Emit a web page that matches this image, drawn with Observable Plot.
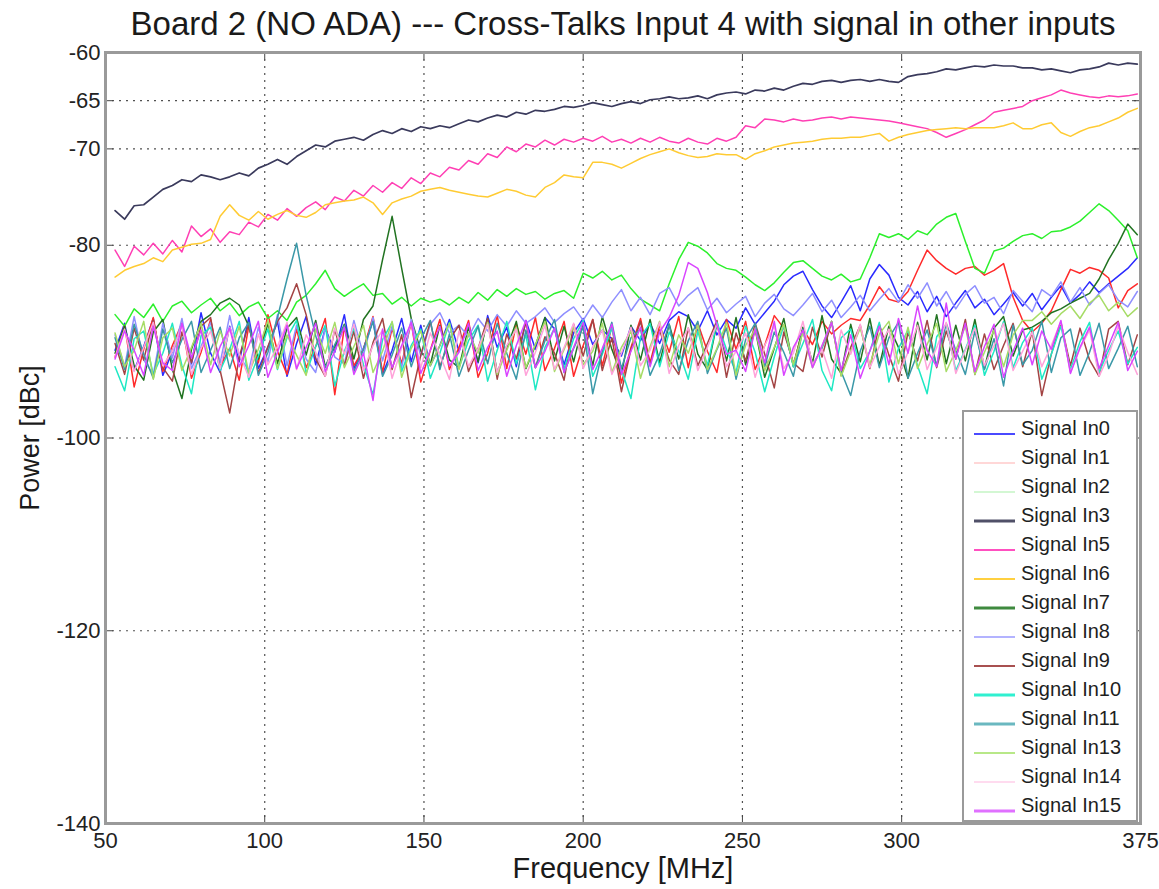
<!DOCTYPE html>
<html>
<head>
<meta charset="utf-8">
<script src="https://cdn.jsdelivr.net/npm/d3@7"></script>
<script src="https://cdn.jsdelivr.net/npm/@observablehq/plot@0.6"></script>
<style>
  html, body { margin: 0; padding: 0; background: #fff; }
  #wrap { position: relative; width: 1159px; height: 889px; font-family: "Liberation Sans", Arial, sans-serif; }
  #legend { position: absolute; left: 962px; top: 410px; width: 172px; height: 408px;
            border: 2px solid #9a9a9a; background: #fff; box-sizing: content-box; }
  .row { position: absolute; left: 0; height: 29px; width: 172px; }
  .sw { position: absolute; left: 10px; top: 11px; }
  .lb { position: absolute; left: 57px; top: 50%; transform: translateY(-50%); font-size: 20px; color: #1e1e1e; white-space: nowrap; }
</style>
</head>
<body>
<div id="wrap"></div>
<script>
// ---- data ----
const titleText = "Board 2 (NO ADA) --- Cross-Talks Input 4 with signal in other inputs";
const xLabel = "Frequency [MHz]";
const yLabel = "Power [dBc]";
const xTicks = [50, 100, 150, 200, 250, 300, 375];
const xGrid = [100, 150, 200, 250, 300];
const yTicks = [-60, -65, -70, -80, -100, -120, -140];
const yGrid = [-65, -70, -80, -100, -120];

const freq = [
 53,56,59,62,65,68,71,74,77,80,83,86,
 89,92,95,98,101,104,107,110,113,116,119,122,
 125,128,131,134,137,140,143,146,149,152,155,158,
 161,164,167,170,173,176,179,182,185,188,191,194,
 197,200,203,206,209,212,215,218,221,224,227,230,
 233,236,239,242,245,248,251,254,257,260,263,266,
 269,272,275,278,281,284,287,290,293,296,299,302,
 305,308,311,314,317,320,323,326,329,332,335,338,
 341,344,347,350,353,356,359,362,365,368,371,374];

const seriesNames = ["Signal In0","Signal In1","Signal In2","Signal In3","Signal In5","Signal In6","Signal In7",
  "Signal In8","Signal In9","Signal In10","Signal In11","Signal In13","Signal In14","Signal In15"];

const in0 = [
 -90.9,-88.1,-93.0,-90.5,-87.6,-93.5,-91.0,-88.2,-92.3,-87.0,-91.2,-93.2,
 -88.4,-92.1,-87.5,-92.8,-90.6,-87.9,-93.6,-90.2,-87.4,-92.4,-88.6,-91.1,
 -87.2,-92.8,-90.7,-87.8,-93.4,-90.9,-87.6,-92.1,-88.3,-92.5,-90.4,-87.7,
 -91.0,-88.1,-92.2,-87.3,-90.6,-88.5,-92.6,-87.8,-90.8,-87.5,-88.7,-92.4,
 -89.1,-87.6,-90.3,-88.8,-89.7,-91.5,-88.4,-89.9,-88.1,-90.2,-87.8,-86.9,
 -87.4,-88.9,-86.8,-89.3,-87.7,-88.6,-86.5,-88.2,-87.0,-85.8,-84.1,-83.2,
 -82.7,-84.6,-86.3,-87.5,-85.9,-84.2,-86.8,-83.5,-82.0,-83.1,-85.4,-86.2,
 -84.8,-86.9,-85.3,-87.4,-86.0,-84.7,-86.5,-85.6,-87.2,-86.1,-84.9,-86.3,
 -85.0,-86.7,-85.4,-84.2,-86.0,-85.1,-83.8,-84.9,-84.0,-83.2,-82.4,-81.3];

const in1 = [
 -91.6,-88.3,-94.7,-90.8,-87.5,-93.1,-90.4,-88.1,-93.8,-91.1,-87.7,-92.6,
 -90.7,-94.0,-88.4,-92.2,-87.2,-91.0,-93.4,-88.7,-92.7,-90.5,-87.6,-95.5,
 -88.5,-92.5,-90.8,-87.4,-93.2,-88.6,-92.3,-88.0,-94.2,-90.9,-87.7,-92.9,
 -90.6,-87.8,-93.7,-91.2,-87.3,-92.8,-88.2,-91.3,-87.5,-93.0,-90.7,-87.9,
 -93.6,-90.4,-87.7,-92.5,-88.4,-94.3,-90.6,-87.6,-92.2,-88.3,-91.1,-87.4,
 -92.7,-88.1,-91.0,-93.2,-87.7,-90.8,-87.9,-92.9,-90.4,-87.3,-88.6,-92.4,
 -88.7,-90.3,-87.9,-89.2,-88.3,-87.6,-87.8,-86.2,-84.3,-85.6,-85.9,-84.8,
 -82.6,-80.5,-81.6,-82.4,-83.0,-82.4,-82.2,-83.1,-82.6,-81.9,-85.4,-87.8,
 -89.0,-88.1,-86.8,-84.6,-82.5,-82.9,-82.3,-82.6,-83.4,-86.5,-84.7,-84.0];

const in2 = [
 -87.2,-88.4,-86.6,-87.5,-86.1,-87.9,-86.3,-85.8,-87.0,-86.2,-85.5,-86.8,
 -86.0,-87.3,-86.4,-85.9,-87.6,-86.8,-87.8,-85.9,-85.2,-84.0,-82.6,-84.5,
 -85.3,-84.6,-84.0,-85.2,-85.0,-86.1,-85.4,-86.3,-85.5,-85.9,-85.6,-86.2,
 -85.4,-86.0,-84.9,-85.7,-84.6,-85.3,-84.5,-85.1,-84.8,-85.6,-85.0,-84.7,
 -85.5,-82.9,-83.4,-82.7,-83.6,-83.1,-84.5,-85.6,-86.2,-86.8,-84.0,-81.5,
 -79.7,-80.1,-80.8,-81.9,-82.4,-82.6,-83.3,-84.1,-84.7,-83.9,-82.8,-81.8,
 -81.6,-82.4,-83.2,-83.6,-83.0,-83.8,-83.5,-81.3,-78.8,-79.2,-78.8,-79.4,
 -78.5,-78.9,-77.8,-77.1,-76.7,-79.6,-82.4,-82.9,-80.6,-80.3,-79.6,-79.0,
 -78.8,-79.3,-78.6,-78.5,-78.1,-77.5,-76.6,-75.7,-76.4,-77.4,-78.5,-81.3];

const in3 = [
 -76.4,-77.3,-75.9,-75.8,-75.0,-74.2,-73.8,-73.2,-73.4,-72.7,-72.9,-73.2,
 -72.9,-72.5,-72.8,-72.0,-71.6,-71.1,-71.6,-70.8,-70.2,-69.6,-69.8,-69.2,
 -69.0,-68.8,-69.1,-68.5,-68.1,-68.4,-67.9,-68.2,-67.7,-67.9,-67.6,-67.8,
 -67.4,-67.0,-67.2,-66.8,-66.5,-66.7,-66.2,-66.4,-66.0,-66.1,-65.9,-65.6,
 -65.7,-65.5,-65.2,-65.4,-65.6,-65.3,-65.1,-65.3,-64.9,-64.8,-64.6,-64.8,
 -64.7,-64.5,-64.8,-64.4,-64.2,-64.1,-64.3,-63.9,-64.0,-63.7,-63.9,-63.5,
 -63.2,-63.3,-63.0,-62.9,-63.1,-62.9,-62.8,-63.0,-62.8,-63.0,-63.1,-62.5,
 -62.3,-62.2,-62.0,-61.7,-61.8,-61.6,-61.4,-61.5,-61.3,-61.4,-61.4,-61.6,
 -61.6,-61.8,-61.7,-61.9,-62.1,-61.8,-61.7,-61.5,-61.1,-61.3,-61.1,-61.2];

const in5 = [
 -80.5,-82.2,-80.1,-81.0,-79.8,-80.9,-79.5,-80.7,-78.0,-79.1,-78.3,-79.7,
 -78.6,-78.9,-77.6,-78.1,-76.8,-77.4,-76.2,-77.0,-76.1,-75.5,-76.3,-75.0,
 -75.4,-74.3,-74.9,-73.8,-74.5,-73.5,-74.1,-73.0,-73.6,-72.5,-72.9,-71.9,
 -72.2,-71.2,-71.6,-70.5,-70.9,-69.8,-70.3,-69.5,-69.8,-69.1,-69.6,-69.0,
 -69.3,-68.9,-69.2,-68.7,-69.3,-69.0,-69.4,-68.9,-69.3,-68.8,-69.2,-69.4,
 -68.9,-69.3,-69.5,-68.9,-69.2,-68.8,-67.6,-67.8,-66.9,-67.0,-67.2,-66.9,
 -67.1,-67.0,-66.8,-66.7,-66.9,-66.7,-66.8,-66.9,-67.0,-67.1,-67.3,-67.5,
 -67.7,-67.9,-68.3,-68.8,-68.4,-68.0,-67.5,-67.0,-66.2,-66.0,-65.8,-65.6,
 -65.0,-64.7,-64.4,-63.9,-64.2,-64.4,-64.6,-64.7,-64.5,-64.6,-64.5,-64.3];

const in6 = [
 -83.3,-82.6,-82.2,-81.9,-81.3,-81.7,-80.5,-80.2,-79.9,-79.8,-79.4,-77.0,
 -75.8,-76.9,-77.4,-76.5,-77.3,-76.8,-76.4,-76.9,-77.1,-76.6,-75.8,-75.6,
 -75.4,-75.3,-75.0,-75.6,-76.8,-75.6,-75.2,-74.9,-74.4,-74.2,-74.0,-74.3,
 -74.5,-74.7,-74.9,-75.0,-74.6,-74.2,-74.4,-74.8,-75.0,-74.0,-73.5,-72.7,
 -72.9,-73.0,-71.4,-71.4,-71.6,-72.0,-71.5,-71.0,-70.6,-70.3,-70.0,-70.4,
 -70.7,-70.9,-70.8,-70.5,-70.6,-70.6,-71.1,-70.5,-70.2,-69.8,-69.6,-69.4,
 -69.3,-69.2,-69.0,-68.9,-68.9,-68.8,-68.8,-68.6,-68.4,-69.2,-68.8,-68.5,
 -68.3,-68.1,-68.0,-67.9,-67.8,-67.9,-67.8,-67.8,-67.8,-67.6,-67.3,-67.9,
 -67.9,-67.5,-67.3,-68.3,-68.7,-68.2,-67.8,-67.6,-67.2,-66.8,-66.2,-65.8];

const in7 = [
 -91.2,-88.4,-92.5,-94.0,-89.0,-87.7,-92.9,-95.9,-90.8,-87.9,-87.2,-86.0,
 -85.5,-86.2,-88.4,-91.8,-88.1,-92.3,-88.6,-87.5,-91.4,-87.8,-92.6,-90.5,
 -88.2,-91.8,-87.7,-86.3,-81.5,-77.0,-82.4,-87.6,-91.0,-92.4,-88.3,-91.9,
 -92.7,-88.5,-92.1,-87.6,-93.2,-90.7,-87.9,-92.8,-90.4,-87.5,-92.0,-88.4,
 -92.1,-88.0,-92.5,-87.4,-90.8,-93.4,-88.3,-91.9,-87.7,-92.2,-88.2,-91.8,
 -87.2,-91.3,-92.9,-88.1,-92.0,-87.5,-92.4,-88.7,-93.7,-90.7,-87.6,-92.6,
 -88.5,-92.2,-87.3,-91.8,-93.3,-88.2,-92.1,-87.6,-92.5,-88.4,-90.6,-93.8,
 -88.0,-91.9,-87.2,-92.3,-88.3,-92.0,-87.7,-92.8,-88.6,-87.4,-91.5,-88.8,
 -88.5,-87.9,-87.0,-86.6,-86.0,-85.5,-85.0,-83.5,-81.5,-79.8,-77.8,-78.9];

const in8 = [
 -89.3,-92.6,-87.4,-91.9,-93.4,-88.1,-91.7,-87.6,-92.8,-90.5,-88.0,-92.2,
 -87.3,-91.5,-93.0,-88.5,-92.1,-87.2,-92.5,-88.3,-91.8,-93.2,-88.6,-91.6,
 -92.3,-87.8,-91.4,-87.5,-92.0,-88.4,-92.7,-87.7,-91.5,-88.2,-87.0,-89.1,
 -88.3,-89.5,-87.6,-88.9,-87.2,-88.4,-86.8,-88.1,-87.4,-86.5,-88.0,-87.1,
 -86.4,-87.8,-86.2,-87.5,-85.9,-84.6,-86.8,-85.4,-87.2,-85.0,-84.4,-86.3,
 -85.2,-84.4,-86.7,-85.5,-87.0,-86.1,-85.3,-87.4,-86.0,-85.1,-86.6,-87.3,
 -86.2,-85.0,-86.9,-85.7,-87.5,-86.4,-85.2,-86.8,-85.6,-84.5,-85.9,-84.1,
 -85.5,-83.9,-86.3,-84.8,-86.6,-85.1,-84.2,-86.0,-85.4,-87.1,-84.7,-85.8,
 -86.9,-84.6,-85.3,-83.8,-85.9,-84.4,-86.2,-85.0,-84.1,-85.7,-86.4,-84.8];

const in9 = [
 -90.2,-93.4,-88.6,-91.9,-87.8,-92.7,-94.1,-89.0,-92.2,-88.4,-87.5,-93.0,
 -97.4,-91.6,-88.1,-93.3,-90.5,-87.9,-86.5,-84.0,-87.2,-91.8,-93.6,-88.7,
 -92.5,-88.9,-93.8,-90.1,-87.6,-92.9,-89.3,-95.8,-91.4,-87.9,-92.6,-89.8,
 -88.3,-93.1,-90.7,-87.6,-93.9,-89.2,-91.8,-88.0,-92.7,-89.5,-91.2,-94.0,
 -88.2,-91.5,-87.7,-93.0,-89.6,-95.2,-90.8,-87.9,-92.4,-88.8,-91.9,-93.4,
 -88.6,-92.5,-90.2,-87.8,-93.7,-89.1,-92.0,-88.1,-91.3,-94.8,-89.0,-92.2,
 -93.1,-88.5,-91.6,-87.9,-93.5,-90.6,-88.3,-92.8,-88.2,-91.4,-94.1,-89.0,
 -92.0,-87.8,-92.7,-88.9,-91.8,-87.7,-93.4,-89.2,-92.9,-90.4,-88.1,-92.6,
 -88.9,-95.6,-91.3,-88.0,-92.5,-88.6,-91.9,-93.6,-88.7,-87.9,-92.4,-89.3];

const in10 = [
 -92.6,-95.1,-89.7,-88.9,-93.4,-91.2,-88.1,-92.5,-95.4,-89.4,-88.5,-93.0,
 -90.8,-87.9,-94.0,-91.5,-88.7,-92.9,-89.6,-87.8,-93.3,-90.5,-88.3,-94.6,
 -91.0,-88.6,-92.4,-95.5,-89.8,-88.0,-93.1,-90.4,-88.7,-93.8,-91.2,-88.0,
 -92.7,-89.9,-88.3,-94.1,-90.9,-87.9,-92.3,-89.3,-95.0,-90.6,-88.6,-92.8,
 -89.7,-87.8,-93.6,-91.3,-88.6,-92.9,-95.9,-89.5,-88.1,-92.6,-89.0,-91.0,
 -93.9,-88.9,-92.5,-88.0,-90.8,-93.2,-88.4,-91.1,-95.2,-91.6,-88.3,-92.6,
 -90.2,-87.7,-93.0,-95.1,-89.6,-88.7,-92.8,-91.0,-88.0,-94.2,-90.7,-88.8,
 -92.5,-95.4,-89.5,-88.2,-93.0,-90.8,-88.3,-93.5,-91.0,-87.9,-92.7,-90.1,
 -88.6,-93.9,-91.3,-88.4,-92.9,-90.0,-88.0,-93.2,-90.9,-88.9,-92.3,-90.6];

const in11 = [
 -89.6,-92.9,-88.2,-91.3,-93.8,-88.7,-92.2,-89.8,-87.9,-93.2,-90.9,-88.5,
 -92.8,-89.6,-88.0,-93.5,-91.1,-87.5,-83.5,-79.8,-85.2,-89.4,-92.7,-90.3,
 -88.3,-93.1,-90.8,-87.9,-93.6,-91.4,-88.6,-92.6,-89.7,-87.8,-92.9,-89.2,
 -93.6,-90.9,-88.4,-92.3,-88.1,-91.2,-93.9,-88.8,-92.7,-89.9,-87.7,-93.2,
 -90.7,-88.5,-95.4,-91.0,-88.0,-92.8,-89.6,-88.7,-93.5,-91.3,-88.2,-93.0,
 -89.9,-87.9,-93.3,-90.8,-88.6,-93.9,-89.8,-88.1,-92.6,-89.0,-91.1,-93.6,
 -88.7,-92.4,-90.7,-87.9,-93.1,-95.6,-91.0,-88.4,-92.7,-89.6,-88.0,-93.8,
 -91.2,-88.8,-92.5,-88.1,-90.9,-93.4,-88.9,-92.9,-89.7,-94.6,-88.3,-92.4,
 -90.9,-87.9,-93.2,-89.6,-88.7,-93.5,-91.1,-88.1,-92.8,-90.7,-88.4,-92.6];

const in13 = [
 -89.1,-92.6,-90.9,-87.9,-93.9,-89.6,-88.6,-93.0,-90.6,-88.1,-92.4,-88.9,
 -91.5,-88.4,-93.3,-90.8,-87.8,-92.8,-89.3,-91.4,-93.5,-88.7,-91.2,-88.0,
 -92.7,-90.5,-88.3,-93.2,-91.0,-87.9,-93.7,-90.7,-88.9,-92.5,-90.4,-88.1,
 -92.9,-89.1,-91.2,-88.0,-93.4,-90.9,-88.5,-92.7,-90.3,-87.9,-93.1,-90.8,
 -88.4,-92.4,-91.0,-88.1,-93.2,-90.6,-88.9,-93.8,-90.5,-87.9,-92.6,-89.3,
 -91.2,-88.3,-92.9,-90.7,-88.0,-93.5,-90.4,-88.7,-93.0,-90.6,-88.2,-92.4,
 -89.0,-92.7,-90.5,-87.9,-93.6,-91.0,-88.6,-92.4,-89.2,-87.9,-92.3,-88.5,
 -92.8,-90.3,-88.1,-93.1,-90.9,-88.4,-93.4,-91.1,-88.8,-92.6,-89.3,-87.8,
 -87.8,-86.9,-88.2,-87.1,-86.3,-87.6,-86.0,-85.2,-86.8,-85.9,-87.4,-86.5];

const in14 = [
 -91.6,-88.7,-93.1,-90.6,-88.0,-92.5,-91.0,-88.3,-93.4,-90.7,-88.9,-92.8,
 -88.5,-91.2,-93.7,-89.2,-92.4,-90.5,-88.0,-92.9,-89.3,-91.1,-93.6,-88.6,
 -91.3,-88.2,-93.0,-90.4,-88.8,-93.8,-90.6,-88.1,-92.7,-89.1,-91.4,-93.9,
 -88.9,-92.6,-90.7,-88.2,-93.2,-90.4,-88.7,-93.5,-91.1,-88.3,-92.9,-90.6,
 -88.1,-92.8,-90.5,-88.8,-93.4,-91.2,-88.5,-92.5,-90.9,-88.0,-93.3,-90.4,
 -88.6,-93.0,-90.6,-88.2,-92.6,-91.0,-89.1,-93.7,-90.4,-88.4,-92.8,-91.2,
 -87.9,-92.4,-90.8,-93.8,-88.8,-91.3,-88.2,-92.7,-90.5,-88.7,-93.4,-91.1,
 -88.3,-92.9,-90.6,-88.0,-93.3,-90.9,-88.6,-92.5,-90.4,-88.1,-93.0,-91.0,
 -89.0,-92.6,-90.4,-87.9,-93.2,-90.7,-88.8,-93.6,-91.4,-88.4,-91.1,-93.4];

const in15 = [
 -91.8,-88.9,-90.9,-93.5,-88.4,-92.2,-93.0,-88.1,-91.7,-88.8,-93.2,-90.5,
 -88.6,-92.6,-90.4,-87.9,-93.7,-91.1,-88.3,-92.8,-90.6,-88.1,-93.1,-91.0,
 -88.5,-93.4,-91.2,-96.1,-88.7,-92.7,-90.4,-88.0,-93.3,-90.9,-88.4,-92.5,
 -91.1,-88.1,-93.0,-90.6,-88.9,-93.6,-90.4,-87.8,-92.7,-91.0,-88.6,-93.2,
 -90.6,-88.0,-92.9,-90.7,-88.2,-93.4,-91.0,-88.5,-92.6,-89.0,-87.5,-85.2,
 -81.8,-82.4,-84.9,-88.3,-91.3,-90.9,-93.1,-88.7,-92.2,-87.9,-93.5,-90.6,
 -88.8,-92.7,-90.4,-88.0,-93.0,-89.3,-93.8,-91.0,-88.4,-92.4,-87.6,-91.2,
 -86.3,-90.9,-92.6,-86.0,-91.8,-88.1,-93.1,-90.5,-88.2,-93.7,-91.0,-88.6,
 -92.4,-88.9,-90.8,-87.8,-93.3,-90.6,-88.5,-92.8,-90.4,-88.0,-93.0,-91.0];

const seriesValues = [in0, in1, in2, in3, in5, in6, in7, in8, in9, in10, in11, in13, in14, in15];

// ---- styles ----
const seriesColors = ["#2a2aff","#ff2a2a","#2cf02c","#3a3a5c","#ff3fb4","#ffcb33","#217321",
  "#8f8fff","#a34444","#1ee8c4","#3a98a8","#a6dc66","#ffa3da","#d944ff"];
const legendColors = ["#4a4aff","#ffb0b0","#a8f0a8","#505068","#ff50c0","#ffd040","#3f8a3f",
  "#9a9aff","#a85050","#30f0d0","#6ab8c0","#b8e888","#ffb8e0","#e070ff"];
const legendWidths = [2.2, 1.2, 1.2, 3, 2.2, 2.2, 3, 1.6, 1.8, 3, 3, 2.2, 1.2, 3];

const fontFam = '"Liberation Sans", Arial, sans-serif';

const lineMarks = seriesValues.map((vals, k) =>
  Plot.line(freq.map((f, i) => ({f, v: vals[i]})),
    {x: "f", y: "v", stroke: seriesColors[k], strokeWidth: k === 3 ? 1.7 : 1.5})
);

const chart = Plot.plot({
  width: 1159,
  height: 889,
  marginLeft: 105,
  marginRight: 19,
  marginTop: 52,
  marginBottom: 66,
  style: {fontFamily: fontFam, background: "#fff", color: "#222", overflow: "visible"},
  x: {domain: [50, 375]},
  y: {domain: [-140, -60]},
  marks: [
    Plot.gridX(xGrid, {stroke: "#333", strokeOpacity: 0.85, strokeWidth: 1.2, strokeDasharray: "2,5"}),
    Plot.gridY(yGrid, {stroke: "#333", strokeOpacity: 0.85, strokeWidth: 1.2, strokeDasharray: "2,5"}),
    ...lineMarks,
    Plot.ruleX(xTicks, {y1: -60, y2: -60.8, stroke: "#444"}),
    Plot.ruleX(xTicks, {y1: -140, y2: -139.2, stroke: "#444"}),
    Plot.ruleY(yTicks, {x1: 50, x2: 52.5, stroke: "#444"}),
    Plot.ruleY(yTicks, {x1: 372.5, x2: 375, stroke: "#444"}),
    Plot.frame({stroke: "#9a9a9a", strokeWidth: 3}),
    Plot.axisX(xTicks, {tickSize: 0, tickPadding: 9, fontSize: 22, label: null, tickFormat: d => String(d)}),
    Plot.axisY(yTicks, {tickSize: 0, tickPadding: 5, fontSize: 22, label: null, tickFormat: d => String(d)}),
    Plot.text([titleText], {frameAnchor: "top", dy: -28, text: d => d, fontSize: 33, fill: "#1a1a1a", lineAnchor: "middle"}),
    Plot.text([xLabel], {frameAnchor: "bottom", dy: 45, text: d => d, fontSize: 29, fill: "#1a1a1a", lineAnchor: "middle"}),
    Plot.text([yLabel], {frameAnchor: "left", dx: -75, rotate: -90, textAnchor: "middle", text: d => d, fontSize: 27, fill: "#1a1a1a", lineAnchor: "middle"})
  ]
});

const wrap = document.getElementById("wrap");
wrap.appendChild(chart);

// legend
const legend = document.createElement("div");
legend.id = "legend";
seriesNames.forEach((name, k) => {
  const row = document.createElement("div");
  row.className = "row";
  row.style.top = (1 + k * 29) + "px";
  const sw = document.createElement("div");
  sw.className = "sw";
  sw.innerHTML = `<svg width="41" height="8"><line x1="0" x2="41" y1="4" y2="4" stroke="${legendColors[k]}" stroke-width="${legendWidths[k]}"/></svg>`;
  const lb = document.createElement("div");
  lb.className = "lb";
  lb.textContent = name;
  row.appendChild(sw);
  row.appendChild(lb);
  legend.appendChild(row);
});
wrap.appendChild(legend);
</script>
</body>
</html>
